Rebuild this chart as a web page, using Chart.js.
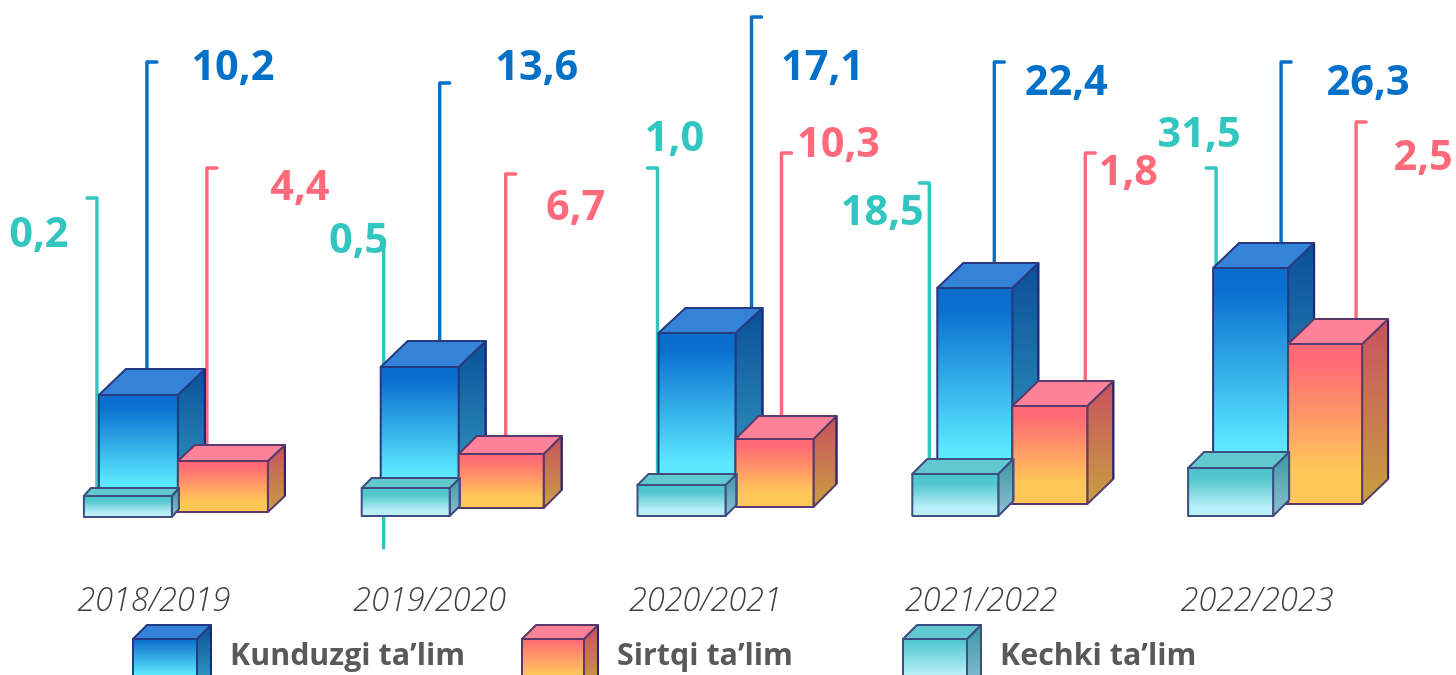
<!DOCTYPE html>
<html><head><meta charset="utf-8">
<style>html,body{margin:0;padding:0;background:#fff;overflow:hidden}canvas{display:block}</style>
<script src="https://cdn.jsdelivr.net/npm/chart.js@4"></script>
</head><body><canvas id="c" width="1456" height="675"></canvas>
<script>
const categories = ['2018/2019','2019/2020','2020/2021','2021/2022','2022/2023'];
const seriesNames = ['Kunduzgi ta’lim','Sirtqi ta’lim','Kechki ta’lim'];
// bar heights as drawn in the picture, not proportional to the printed labels
const kunduzgiBase = [4,8,9,12,12];
const kunduzgiTop  = [121,149,183,228,248];
const sirtqiBase   = [4,8,9,12,12];
const sirtqiTop    = [55,62,77,110,172];
const kechkiBase   = [-1,0,0,0,0];
const kechkiTop    = [20,28,31,42,48];
// printed labels
const kunduzgiLabels = ['10,2','13,6','17,1','22,4','26,3'];
const sirtqiLabels   = ['4,4','6,7','10,3','1,8','2,5'];
const kechkiLabels   = ['0,2','0,5','1,0','18,5','31,5'];
// leader line tops and bottoms
const kunduzgiLeader = [454,433,499,454,454];
const sirtqiLeader   = [348,342,363,363,394];
const kechkiLeader   = [318,273,348,333,348];
const kechkiLeaderEnd= [10,-32,10,10,10];

const layouts = [
 { off:[[-55,24],[-49,29],[-47,30],[-44,31],[-44,31]], depth:[[27,26],[27,26],[27,25],[26,25],[26,25]],
   line:[-7,10,46,13,24], tickDir:1, lx:[79,107,117,85,111], ly:[65,65,65,80,80],
   color:'#0070c8', front:[[0,'#0a6ccc'],[.1,'#0a70d0'],[.75,'#5ce8ff'],[1,'#5ce8ff']], top:'#3583d8', side:['#0a4f98','#3aa4c8'], stroke:'#253a80', edge:'#1b2a78' },
 { off:[[24,114],[29,114],[30,108],[31,106],[31,105]], depth:[[17,16],[18,18],[23,23],[26,25],[26,25]],
   line:[53,76,76,104,99], tickDir:1, lx:[146,146,133,147,166], ly:[185,205,142,170,155],
   color:'#ff6a7a', front:[[0,'#ff6a76'],[.12,'#ff6c74'],[.78,'#ffc658'],[1,'#ffc658']], top:'#ff8299', side:['#c8505f','#c8a040'], stroke:'#5a3a6a', edge:'#33206a' },
 { off:[[-70,18],[-68,20],[-68,20],[-69,17],[-69,16]], depth:[[7,8],[10,10],[11,11],[15,15],[16,16]],
   line:[-57,-46,-48,-52,-41], tickDir:-1, lx:[-115,-71,-31,-99,-58], ly:[232,238,136,210,132],
   color:'#33c6c0', front:[[0,'#4cc4cc'],[.25,'#55c8ce'],[.8,'#b8eff8'],[1,'#b8f0f8']], top:'#62c8d0', side:['#3a98a4','#90c0d4'], stroke:'#3f4d80', edge:'#3f4d80' }
];
const leaders = [kunduzgiLeader, sirtqiLeader, kechkiLeader];
const labelSets = [kunduzgiLabels, sirtqiLabels, kechkiLabels];
const legendX = [[133,197,230],[522,584,617],[903,967,1000]];

function box(ctx,x0,x1,yT,yB,dx,dy,L){
  const g=ctx.createLinearGradient(0,yT,0,yB);
  L.front.forEach(s=>g.addColorStop(s[0],s[1]));
  const sg=ctx.createLinearGradient(0,yT-dy,0,yB);
  sg.addColorStop(0,L.side[0]);sg.addColorStop(1,L.side[1]);
  ctx.lineJoin='round';ctx.lineWidth=2;
  ctx.beginPath();ctx.moveTo(x1,yT);ctx.lineTo(x1+dx,yT-dy);ctx.lineTo(x1+dx,yB-dy);ctx.lineTo(x1,yB);ctx.closePath();
  ctx.fillStyle=sg;ctx.fill();ctx.strokeStyle=L.stroke;ctx.stroke();
  ctx.beginPath();ctx.moveTo(x1+dx,yT-dy);ctx.lineTo(x1+dx,yB-dy);ctx.strokeStyle=L.edge;ctx.stroke();
  ctx.beginPath();ctx.moveTo(x0,yT);ctx.lineTo(x0+dx,yT-dy);ctx.lineTo(x1+dx,yT-dy);ctx.lineTo(x1,yT);ctx.closePath();
  ctx.fillStyle=L.top;ctx.fill();ctx.strokeStyle=L.stroke;ctx.stroke();
  ctx.beginPath();ctx.rect(x0,yT,x1-x0,yB-yT);ctx.fillStyle=g;ctx.fill();ctx.strokeStyle=L.stroke;ctx.stroke();
}

const bars3d = {
  id:'bars3d',
  afterDatasetsDraw(chart){
    const ctx=chart.ctx, y=chart.scales.y;
    ctx.save();
    layouts.forEach((L,s)=>{
      chart.getDatasetMeta(s).data.forEach((el,i)=>{
        const x=el.x+L.line[i];
        const t=y.getPixelForValue(leaders[s][i]);
        const b=s===2?y.getPixelForValue(kechkiLeaderEnd[i]):el.y+5;
        ctx.beginPath();ctx.moveTo(x,b);ctx.lineTo(x,t);
        if(!(s===2&&i===1))ctx.lineTo(x+L.tickDir*10,t);
        ctx.strokeStyle=L.color;ctx.lineWidth=3.4;ctx.lineJoin='round';ctx.lineCap='round';ctx.stroke();
      });
    });
    ctx.lineCap='butt';
    layouts.forEach((L,s)=>{
      chart.getDatasetMeta(s).data.forEach((el,i)=>{
        box(ctx,el.x+L.off[i][0],el.x+L.off[i][1],el.y,el.base,L.depth[i][0],L.depth[i][1],L);
      });
    });
    ctx.textAlign='center';ctx.textBaseline='middle';ctx.font='bold 41.5px "Open Sans"';
    layouts.forEach((L,s)=>{
      chart.getDatasetMeta(s).data.forEach((el,i)=>{
        ctx.fillStyle=L.color;ctx.fillText(labelSets[s][i],el.x+L.lx[i],L.ly[i]+3);
      });
    });
    layouts.forEach((L,s)=>{
      box(ctx,legendX[s][0],legendX[s][1],639,690,14,14,Object.assign({},L,{front:[[0,L.front[0][1]],[.7,L.front[3][1]],[1,L.front[3][1]]]}));
      ctx.font='bold 30.4px "Open Sans"';ctx.textAlign='left';ctx.fillStyle='#595959';
      ctx.fillText(chart.data.datasets[s].label,legendX[s][2],656);
    });
    ctx.restore();
  }
};
const floating=(b,t)=>b.map((v,i)=>[v,t[i]]);
const clear='rgba(0,0,0,0)';
new Chart(document.getElementById('c'),{
  type:'bar',
  data:{labels:categories,datasets:[
    {label:seriesNames[0],data:floating(kunduzgiBase,kunduzgiTop),backgroundColor:clear},
    {label:seriesNames[1],data:floating(sirtqiBase,sirtqiTop),backgroundColor:clear},
    {label:seriesNames[2],data:floating(kechkiBase,kechkiTop),backgroundColor:clear}
  ]},
  plugins:[bars3d],
  options:{
    responsive:false,animation:false,
    layout:{padding:{left:16,right:61,top:0,bottom:55}},
    plugins:{legend:{display:false},tooltip:{enabled:false},title:{display:false}},
    datasets:{bar:{grouped:false,barPercentage:.5,categoryPercentage:1}},
    scales:{
      x:{grid:{display:false},border:{display:false},
         afterFit(a){a.height=60;},
         ticks:{maxRotation:0,autoSkip:false,padding:14,color:'#404040',font:{family:'"Open Sans"',size:32.3,style:'italic',weight:'300'}}},
      y:{display:false,min:-44,max:516}
    }
  }
});
</script></body></html>
